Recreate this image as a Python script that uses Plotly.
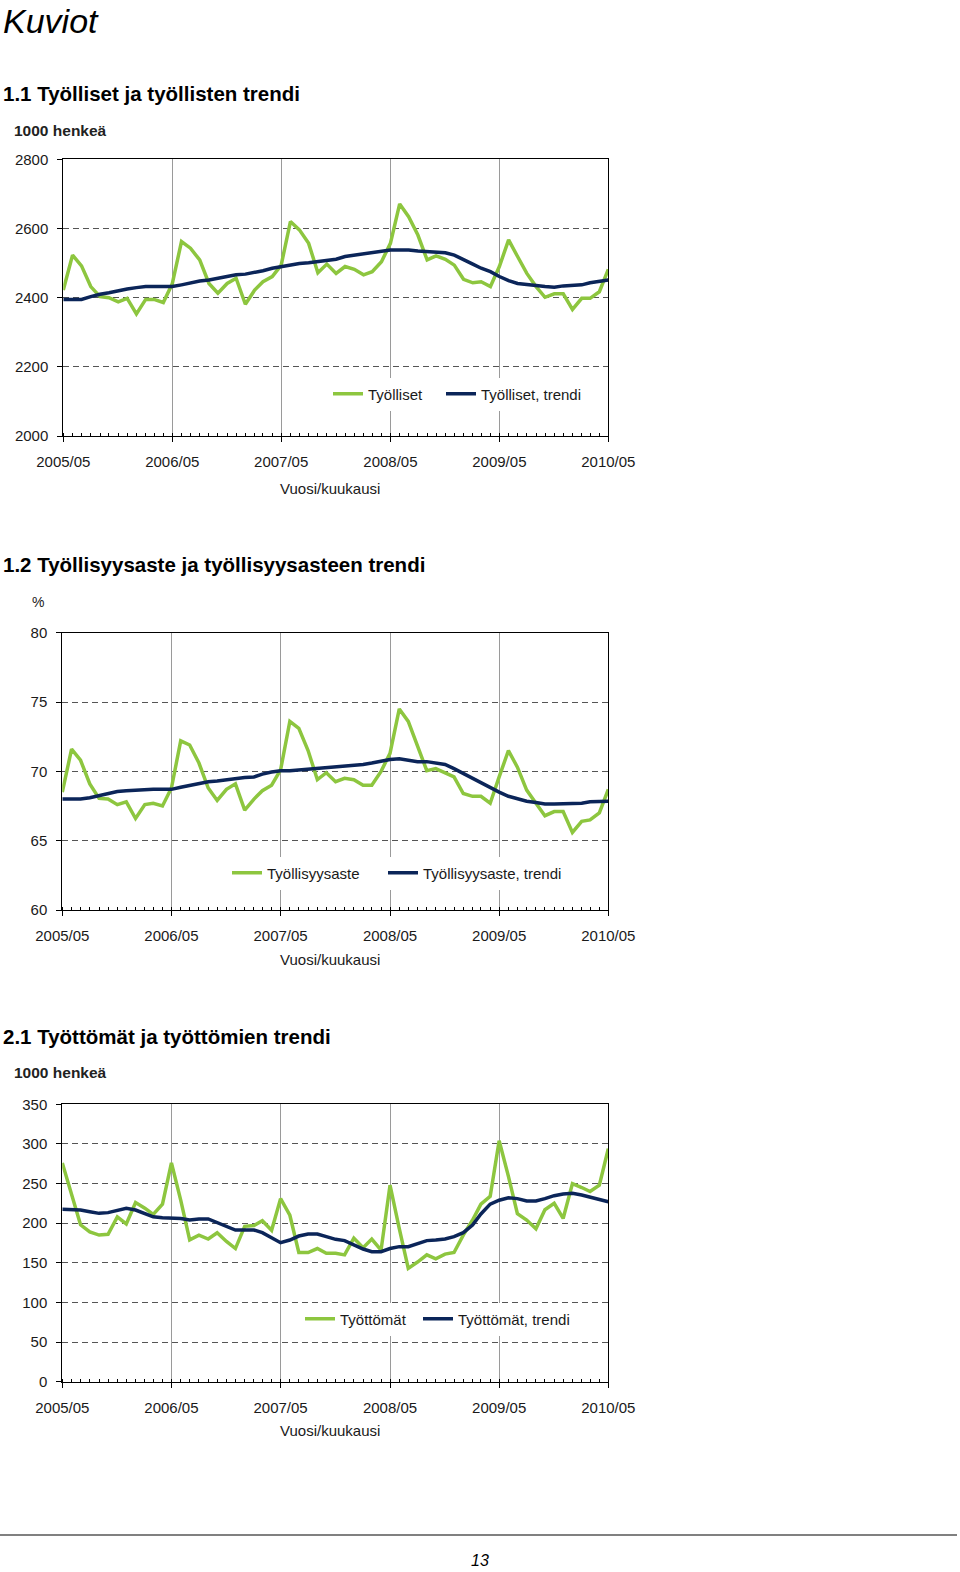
import plotly.graph_objects as go

W, H = 960, 1572

# ---------------- data ----------------
month_dates = [f"{2005 + (4 + i) // 12}-{(4 + i) % 12 + 1:02d}-01" for i in range(61)]
tick_labels = ["2005/05", "2006/05", "2007/05", "2008/05", "2009/05", "2010/05"]

tyolliset = [2422, 2523, 2492, 2432, 2403, 2400, 2388, 2398, 2353, 2395, 2395, 2386, 2440,
             2562, 2543, 2509, 2441, 2413, 2441, 2456, 2381, 2422, 2446, 2461, 2494, 2620,
             2596, 2557, 2472, 2497, 2470, 2490, 2482, 2466, 2475, 2504, 2557, 2671, 2634,
             2581, 2509, 2521, 2511, 2494, 2453, 2443, 2446, 2432, 2490, 2567, 2519, 2470,
             2432, 2401, 2411, 2411, 2366, 2398, 2398, 2417, 2482]
tyolliset_trendi = [2395, 2395, 2395, 2403, 2410, 2414, 2420, 2425, 2429, 2432, 2432, 2432, 2432,
                    2437, 2443, 2448, 2451, 2456, 2461, 2466, 2468, 2472, 2478, 2485, 2490, 2496,
                    2499, 2501, 2504, 2507, 2511, 2519, 2523, 2528, 2531, 2536, 2538, 2538, 2538,
                    2535, 2533, 2533, 2530, 2523, 2511, 2497, 2485, 2475, 2461, 2449, 2441, 2437,
                    2435, 2432, 2430, 2434, 2435, 2437, 2443, 2448, 2451]

tyollisyysaste = [68.5, 71.6, 70.8, 69.1, 68.05, 68.0, 67.6, 67.8, 66.6, 67.6,
                  67.7, 67.5, 68.8, 72.2, 71.9, 70.6, 68.8, 67.9, 68.7, 69.1,
                  67.2, 68.0, 68.6, 69.0, 70.1, 73.6, 73.1, 71.5, 69.4, 69.9,
                  69.25, 69.5, 69.4, 69.0, 69.0, 70.0, 71.3, 74.5, 73.6, 71.8,
                  70.05, 70.2, 69.9, 69.6, 68.4, 68.2, 68.2, 67.7, 69.6, 71.5,
                  70.3, 68.65, 67.7, 66.8, 67.1, 67.1, 65.6, 66.4, 66.5, 67.0, 68.7]
tyollisyysaste_trendi = [68.0, 68.0, 68.0, 68.1, 68.25, 68.4, 68.55, 68.6, 68.65, 68.7,
                         68.7, 68.7, 68.7, 68.85, 69.0, 69.15, 69.25, 69.3, 69.4, 69.45,
                         69.55, 69.6, 69.8, 69.95, 70.05, 70.05, 70.1, 70.15, 70.2, 70.25,
                         70.3, 70.35, 70.4, 70.5, 70.6, 70.75, 70.85, 70.9, 70.8, 70.7,
                         70.7, 70.6, 70.5, 70.2, 69.85, 69.5, 69.15, 68.8, 68.5, 68.2,
                         68.0, 67.85, 67.75, 67.65, 67.65, 67.65, 67.65, 67.7, 67.8, 67.8, 67.85]

tyottomat = [276, 238, 198, 189, 185, 186, 208, 199, 226, 219,
             211, 224, 276, 229, 179, 185, 180, 188, 177, 168,
             196, 197, 203, 191, 231, 210, 163, 163, 168, 162,
             162, 160, 181, 169, 180, 166, 248, 193, 143, 151,
             160, 155, 161, 163, 185, 204, 224, 234, 304, 259,
             212, 204, 193, 217, 225, 206, 250, 245, 240, 248, 294]
tyottomat_trendi = [217.5, 216.6, 216.6, 214.5, 212.4, 213.3, 216.6, 218.7, 216.6, 211.6,
                    208, 207, 207, 206, 204, 205.3, 205.3, 201, 196.4, 191.4,
                    191.4, 191.4, 188, 181.7, 175.4, 178.8, 183.8, 186.3, 186.3, 183,
                    179.6, 178, 172.5, 167.4, 164, 164, 168, 170.4, 170.4, 174.6,
                    178, 178.8, 180, 183, 188, 197.7, 211.6, 224, 229, 232,
                    231, 228, 228, 231, 234.7, 236.8, 237.7, 235.6, 232.6, 230, 227]

GREEN = "#8DC63F"
NAVY = "#0B2559"
FONT = "Liberation Sans, Arial, sans-serif"
TICKCOL = "#1a1a1a"

def px_x(x):
    return x / W

def px_y(y):
    return 1 - y / H

charts = [
    dict(series=(tyolliset, tyolliset_trendi), names=("Työlliset", "Työlliset, trendi"),
         xdom=(63.3, 608.3), ydom=(159.3, 436), yrange=(2000, 2800), dtick=200,
         legx=(328, 441), legy=394),
    dict(series=(tyollisyysaste, tyollisyysaste_trendi),
         names=("Työllisyysaste", "Työllisyysaste, trendi"),
         xdom=(62.3, 608.3), ydom=(632.7, 910), yrange=(60, 80), dtick=5,
         legx=(227, 383), legy=873),
    dict(series=(tyottomat, tyottomat_trendi), names=("Työttömät", "Työttömät, trendi"),
         xdom=(62.3, 608.3), ydom=(1104.3, 1381.7), yrange=(0, 350), dtick=50,
         legx=(300, 418), legy=1319),
]

fig = go.Figure()
layout = {}
leg_i = 0
for k, c in enumerate(charts):
    sfx = "" if k == 0 else str(k + 1)
    xa, ya = "xaxis" + sfx, "yaxis" + sfx
    for j, (vals, name, color) in enumerate(zip(c["series"], c["names"], (GREEN, NAVY))):
        leg_i += 1
        lname = "legend" if leg_i == 1 else f"legend{leg_i}"
        fig.add_trace(go.Scatter(
            x=month_dates, y=vals, name=name, mode="lines",
            line=dict(color=color, width=3.5),
            xaxis="x" + sfx, yaxis="y" + sfx, legend=lname, hoverinfo="skip"))
        layout[lname] = dict(
            x=px_x(c["legx"][j]), y=px_y(c["legy"]), xanchor="left", yanchor="middle",
            bgcolor="rgba(255,255,255,1)", borderwidth=0,
            font=dict(family=FONT, size=15, color=TICKCOL),
            itemwidth=30, orientation="h")
    layout[xa] = dict(
        domain=[px_x(c["xdom"][0]), px_x(c["xdom"][1])],
        anchor="y" + sfx, type="date", automargin=False,
        range=["2005-05-01", "2010-05-01"],
        tick0="2005-05-01", dtick="M12", tickformat="%Y/%m",
        ticks="outside", ticklen=5, tickcolor="black", tickwidth=1,
        ticklabelstandoff=7,
        showgrid=True, gridcolor="#9a9a9a", gridwidth=1,
        showline=True, linecolor="black", linewidth=1, mirror=True,
        minor=dict(tick0="2005-05-01", dtick="M1", ticks="inside", ticklen=3,
                   tickcolor="black", tickwidth=1, showgrid=False),
        tickfont=dict(family=FONT, size=15, color=TICKCOL),
        fixedrange=True,
    )
    layout[ya] = dict(
        domain=[px_y(c["ydom"][1]), px_y(c["ydom"][0])],
        anchor="x" + sfx, range=list(c["yrange"]), dtick=c["dtick"], automargin=False,
        ticks="outside", ticklen=5, tickcolor="black", tickwidth=1,
        ticklabelstandoff=6,
        showgrid=True, gridcolor="#555555", gridwidth=1, griddash="6px,4px",
        zeroline=False,
        showline=True, linecolor="black", linewidth=1, mirror=True,
        tickfont=dict(family=FONT, size=15, color=TICKCOL),
        fixedrange=True,
    )

annotations = []

def text(x, y, s, size, anchor="left", color="black"):
    annotations.append(dict(x=px_x(x), y=px_y(y), xref="paper", yref="paper",
                            text=s, showarrow=False, xanchor=anchor, yanchor="middle",
                            font=dict(family=FONT, size=size, color=color)))

text(1, 21, "<i>Kuviot</i>", 34)
text(1, 93, "<b>1.1 Työlliset ja työllisten trendi</b>", 20.5)
text(1, 565, "<b>1.2 Työllisyysaste ja työllisyysasteen trendi</b>", 20.5)
text(1, 1036, "<b>2.1 Työttömät ja työttömien trendi</b>", 20.5)
text(12, 130, "<b>1000 henkeä</b>", 15.5, color="#222")
text(38, 602, "%", 14, anchor="center", color="#222")
text(12, 1072, "<b>1000 henkeä</b>", 15.5, color="#222")
for yy in (488, 959, 1430):
    text(330, yy, "Vuosi/kuukausi", 15, anchor="center", color=TICKCOL)
text(480, 1560, "<i>13</i>", 16, anchor="center")

shapes = [dict(type="line", xref="paper", yref="paper",
               x0=0, x1=px_x(957), y0=px_y(1535), y1=px_y(1535),
               line=dict(color="#808080", width=2))]

fig.update_layout(
    width=W, height=H, autosize=False,
    margin=dict(l=0, r=0, t=0, b=0, pad=0, autoexpand=False),
    paper_bgcolor="white", plot_bgcolor="white",
    showlegend=True,
    annotations=annotations, shapes=shapes,
    font=dict(family=FONT),
    **layout,
)

# remove the page's default 8px body margin so the figure sits at the page corner
fig.write_html("out.html",
               config={"displayModeBar": False, "staticPlot": True},
               post_script="document.body.style.margin='0';"
                           "document.body.style.overflow='hidden';")
